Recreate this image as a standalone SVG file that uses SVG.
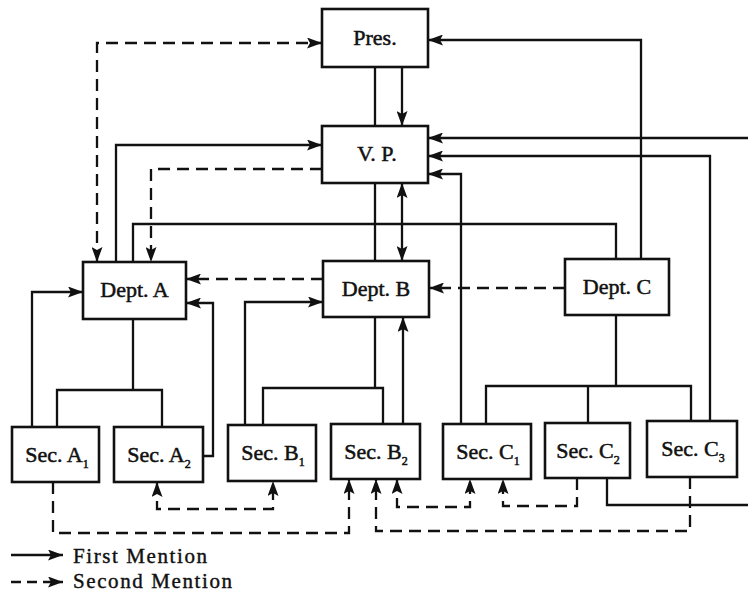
<svg xmlns="http://www.w3.org/2000/svg" width="748" height="593" viewBox="0 0 748 593">
<defs>
<marker id="ah" markerUnits="userSpaceOnUse" viewBox="0 0 15 11" refX="15" refY="5.5" markerWidth="15" markerHeight="11" orient="auto-start-reverse">
<path d="M0,0 L15,5.5 L0,11 L3,5.5 z" fill="#111"/>
</marker>
<style>
.box{fill:#fff;stroke:#111;stroke-width:2.6}
.lbl{font-family:"Liberation Serif","Times New Roman",serif;font-size:22px;fill:#111;stroke:#111;stroke-width:0.5;text-anchor:middle}
.sub{font-size:12px}
.ln{fill:none;stroke:#111;stroke-width:2.3}
.ds{fill:none;stroke:#111;stroke-width:2.3;stroke-dasharray:12 7}
.leg{font-family:"Liberation Serif","Times New Roman",serif;font-size:21px;fill:#111;stroke:#111;stroke-width:0.4}
</style>
</defs>
<rect width="748" height="593" fill="#fff"/>
<g id="connectors">
<path class="ds" d="M97,262 L97,43 L322,43" marker-start="url(#ah)" marker-end="url(#ah)"/>
<path class="ln" d="M375,67 L375,126"/>
<path class="ln" d="M375,183 L375,261"/>
<path class="ln" d="M402,67 L402,126" marker-end="url(#ah)"/>
<path class="ln" d="M402,183 L402,261" marker-start="url(#ah)" marker-end="url(#ah)"/>
<path class="ln" d="M641,259 L641,40 L428,40" marker-end="url(#ah)"/>
<path class="ln" d="M116,262 L116,145 L322,145" marker-end="url(#ah)"/>
<path class="ds" d="M322,169 L151,169 L151,262" marker-end="url(#ah)"/>
<path class="ln" d="M133,262 L133,224 L616,224 L616,259"/>
<path class="ln" d="M748,138 L428,138" marker-end="url(#ah)"/>
<path class="ln" d="M710,421 L710,156 L428,156" marker-end="url(#ah)"/>
<path class="ln" d="M461,424 L461,174 L428,174" marker-end="url(#ah)"/>
<path class="ds" d="M323,279 L186,279" marker-end="url(#ah)"/>
<path class="ds" d="M565,288 L429,288" marker-end="url(#ah)"/>
<path class="ln" d="M32,427 L32,292 L83,292" marker-end="url(#ah)"/>
<path class="ln" d="M203,456 L213,456 L213,303 L186,303" marker-end="url(#ah)"/>
<path class="ln" d="M133,319 L133,390"/>
<path class="ln" d="M57,427 L57,390 L162,390 L162,427"/>
<path class="ln" d="M245,425 L245,302 L323,302" marker-end="url(#ah)"/>
<path class="ln" d="M375,317 L375,388"/>
<path class="ln" d="M263,425 L263,388 L383,388 L383,424"/>
<path class="ln" d="M403,424 L403,317" marker-end="url(#ah)"/>
<path class="ln" d="M616,315 L616,386"/>
<path class="ln" d="M486,424 L486,386 L691,386 L691,421"/>
<path class="ln" d="M588,386 L588,423"/>
<path class="ds" d="M53,482 L53,533 L349,533 L349,479" marker-end="url(#ah)"/>
<path class="ds" d="M157,482 L157,509 L273,509 L273,481" marker-start="url(#ah)" marker-end="url(#ah)"/>
<path class="ds" d="M690,477 L690,531 L376,531 L376,479" marker-end="url(#ah)"/>
<path class="ds" d="M397,479 L397,507 L470,507 L470,479" marker-start="url(#ah)" marker-end="url(#ah)"/>
<path class="ds" d="M577,478 L577,506 L503,506 L503,479" marker-end="url(#ah)"/>
<path class="ln" d="M607,478 L607,505 L748,505"/>
</g>
<g id="pres"><rect class="box" x="322" y="9" width="106" height="58"/><text class="lbl" x="375" y="45">Pres.</text></g>
<g id="vp"><rect class="box" x="322" y="126" width="106" height="57"/><text class="lbl" x="377" y="161">V. P.</text></g>
<g id="deptA"><rect class="box" x="83" y="262" width="103" height="57"/><text class="lbl" x="134.5" y="297">Dept. A</text></g>
<g id="deptB"><rect class="box" x="323" y="261" width="106" height="56"/><text class="lbl" x="376" y="296">Dept. B</text></g>
<g id="deptC"><rect class="box" x="565" y="259" width="104" height="56"/><text class="lbl" x="617" y="294">Dept. C</text></g>
<g id="secA1"><rect class="box" x="12" y="427" width="87" height="55"/><text class="lbl" x="57" y="462">Sec. A<tspan class="sub" dy="6">1</tspan></text></g>
<g id="secA2"><rect class="box" x="114" y="427" width="89" height="55"/><text class="lbl" x="159" y="462">Sec. A<tspan class="sub" dy="6">2</tspan></text></g>
<g id="secB1"><rect class="box" x="228" y="425" width="88" height="56"/><text class="lbl" x="273" y="460">Sec. B<tspan class="sub" dy="6">1</tspan></text></g>
<g id="secB2"><rect class="box" x="331" y="424" width="89" height="55"/><text class="lbl" x="376" y="459">Sec. B<tspan class="sub" dy="6">2</tspan></text></g>
<g id="secC1"><rect class="box" x="443" y="424" width="88" height="55"/><text class="lbl" x="488" y="459">Sec. C<tspan class="sub" dy="6">1</tspan></text></g>
<g id="secC2"><rect class="box" x="545" y="423" width="85" height="55"/><text class="lbl" x="588" y="458">Sec. C<tspan class="sub" dy="6">2</tspan></text></g>
<g id="secC3"><rect class="box" x="647" y="421" width="90" height="56"/><text class="lbl" x="693" y="456">Sec. C<tspan class="sub" dy="6">3</tspan></text></g>
<g id="legend">
<path class="ln" d="M11,555 L63,555" marker-end="url(#ah)"/>
<path class="ln" d="M11,582 L63,582" stroke-dasharray="10 6" marker-end="url(#ah)"/>
<text class="leg" x="73" y="563" textLength="134" lengthAdjust="spacing">First Mention</text>
<text class="leg" x="73" y="588" textLength="159" lengthAdjust="spacing">Second Mention</text>
</g>
</svg>
